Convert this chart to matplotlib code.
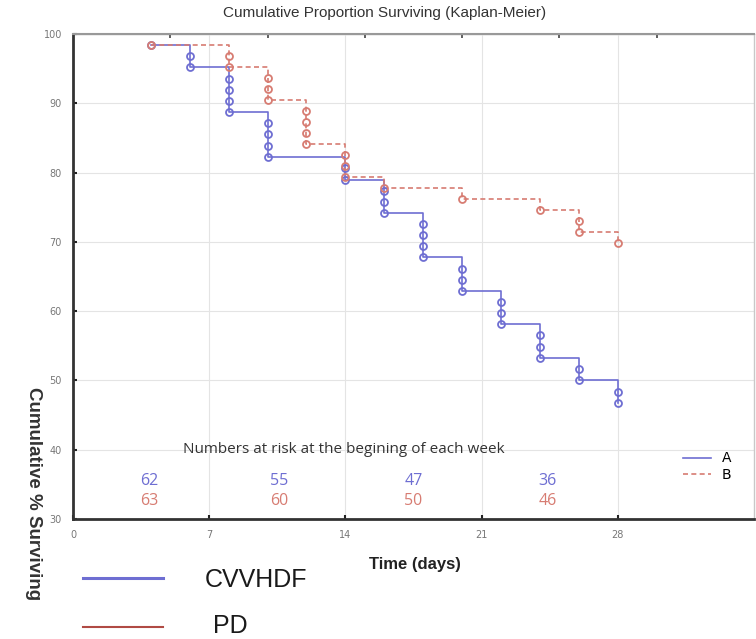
import matplotlib.pyplot as plt
from matplotlib.lines import Line2D

# Kaplan-Meier Daten
times_a = [4, 6, 6, 8, 8, 8, 8, 10, 10, 10, 10, 14, 14, 16, 16, 16, 18, 18, 18, 18,
           20, 20, 20, 22, 22, 22, 24, 24, 24, 26, 26, 28, 28]
surv_a = [98.4, 96.8, 95.2, 93.5, 91.9, 90.3, 88.7, 87.1, 85.5, 83.9, 82.3, 80.6, 79.0,
          77.4, 75.8, 74.2, 72.6, 71.0, 69.4, 67.8, 66.1, 64.5, 62.9, 61.3, 59.7, 58.1,
          56.5, 54.8, 53.2, 51.6, 50.0, 48.4, 46.8]

times_b = [4, 8, 8, 10, 10, 10, 12, 12, 12, 12, 14, 14, 14, 16, 20, 24, 26, 26, 28]
surv_b = [98.4, 96.8, 95.2, 93.7, 92.1, 90.5, 88.9, 87.3, 85.7, 84.1, 82.5, 81.0, 79.4,
          77.8, 76.2, 74.6, 73.0, 71.4, 69.8]

# Numbers at risk
risk_x = [3.9, 10.6, 17.5, 24.4]
risk_a = [62, 55, 47, 36]
risk_b = [63, 60, 50, 46]

xticks = [0, 7, 14, 21, 28]
yticks = [30, 40, 50, 60, 70, 80, 90, 100]

col_a = '#6e6ed2'
col_b = '#d77c72'

fig = plt.figure(figsize=(7.56, 6.39), dpi=100)
ax = fig.add_axes([73 / 756, 1 - 519 / 639, (754 - 73) / 756, (519 - 34) / 639])

ax.step(times_a, surv_a, where='post', color=col_a, lw=1.2, label='A')
ax.step(times_b, surv_b, where='post', color=col_b, lw=1.2, ls=(0, (3, 2)), label='B')
ax.plot(times_a, surv_a, 'o', mfc='none', mec=col_a, ms=5, mew=1.3)
ax.plot(times_b, surv_b, 'o', mfc='none', mec=col_b, ms=5, mew=1.3)

ax.set_xlim(0, 35)
ax.set_ylim(30, 100)
ax.set_xticks(xticks)
ax.set_yticks(yticks)
ax.grid(color='#e4e4e4', lw=0.8)
ax.set_axisbelow(True)
ax.tick_params(direction='in', length=3, width=1.5, color='#222', labelsize=7,
               labelcolor='#777', pad=8)

for s in ['left', 'bottom']:
    ax.spines[s].set_linewidth(2)
    ax.spines[s].set_color('#333')
ax.spines['top'].set_linewidth(1.5)
ax.spines['top'].set_color('#999')
ax.spines['right'].set_linewidth(1)
ax.spines['right'].set_color('#c8c8c8')

# kleine Ticks oben
top = ax.secondary_xaxis('top')
top.set_xticks([5, 10, 15, 20, 25, 30])
top.tick_params(direction='in', length=3, width=1.2, color='#444', labeltop=False)

# Numbers at risk
ax.text(13.9, 40.0, 'Numbers at risk at the begining of each week', ha='center', va='center',
        fontsize=11, color='#333', family='Open Sans')
for x, a, b in zip(risk_x, risk_a, risk_b):
    ax.text(x, 35.5, str(a), ha='center', va='center', fontsize=11.5, color=col_a, family='Open Sans')
    ax.text(x, 32.6, str(b), ha='center', va='center', fontsize=11.5, color=col_b, family='Open Sans')

ax.legend(loc='lower right', bbox_to_anchor=(0.985, 0.05), frameon=False, fontsize=10,
          handlelength=2.0, labelspacing=0.2, handletextpad=0.8)

fig.text(385 / 756, 1 - 13 / 639, 'Cumulative Proportion Surviving (Kaplan-Meier)',
         ha='center', va='center', fontsize=11, color='#333', family='Liberation Sans')
fig.text(33 / 756, 1 - 494 / 639, 'Cumulative % Surviving', rotation=270, ha='center',
         va='center', fontsize=13.5, weight='bold', color='#333', family='Liberation Sans')
fig.text(415 / 756, 1 - 565 / 639, 'Time (days)', ha='center', va='center', fontsize=12,
         weight='bold', color='#222', family='Liberation Sans')

# Legende unten
fig.add_artist(Line2D([83 / 756, 163 / 756], [1 - 578 / 639] * 2, color=col_a, lw=2.2))
fig.add_artist(Line2D([83 / 756, 163 / 756], [1 - 627 / 639] * 2, color='#b04a44', lw=1.5))
fig.text(205 / 756, 1 - 580 / 639, 'CVVHDF', ha='left', va='center', fontsize=18,
         color='#1a1a1a', family='Liberation Sans')
fig.text(213 / 756, 1 - 626 / 639, 'PD', ha='left', va='center', fontsize=18,
         color='#1a1a1a', family='Liberation Sans')

fig.savefig('out.png', dpi=100)
